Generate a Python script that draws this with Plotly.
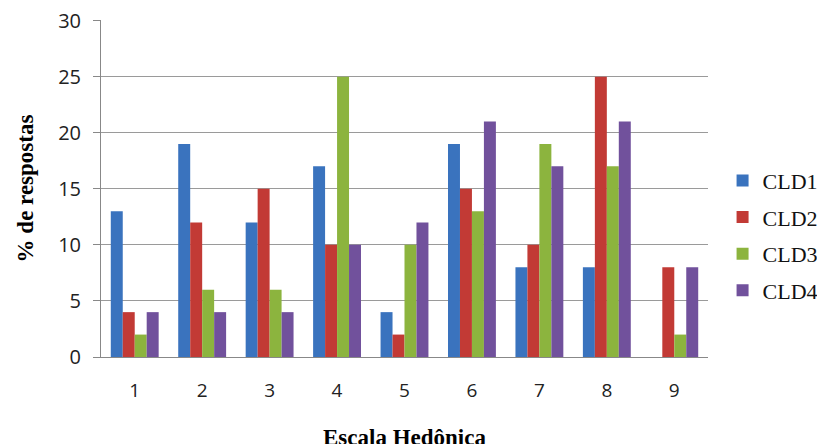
import plotly.graph_objects as go

categories = ["1", "2", "3", "4", "5", "6", "7", "8", "9"]
series_names = ["CLD1", "CLD2", "CLD3", "CLD4"]
cld1 = [13, 19, 12, 17, 4, 19, 8, 8, 0]
cld2 = [4, 12, 15, 10, 2, 15, 10, 25, 8]
cld3 = [2, 6, 6, 25, 10, 13, 19, 17, 2]
cld4 = [4, 4, 4, 10, 12, 21, 17, 21, 8]
colors = ["#3A73BE", "#C23A35", "#8CB43E", "#71519C"]
y_ticks = [0, 5, 10, 15, 20, 25, 30]
x_title = "Escala Hedônica"
y_title = "% de respostas"

fig = go.Figure()
for name, vals, col in zip(series_names, [cld1, cld2, cld3, cld4], colors):
    fig.add_trace(go.Bar(x=categories, y=vals, name=name, legendgroup=name,
                         marker=dict(color=col, line=dict(width=0))))

# page body adds an 8px offset; margins compensate
fig.update_layout(
    width=825, height=444,
    margin=dict(l=93, r=125, t=12, b=95, autoexpand=False),
    paper_bgcolor="white", plot_bgcolor="white",
    barmode="group", bargap=0.29, bargroupgap=0,
    showlegend=True,
    legend=dict(x=1.024, y=0.36, xanchor="left", yanchor="middle",
                font=dict(family="Liberation Serif", size=22, color="#111"),
                itemwidth=30, tracegroupgap=5),
    xaxis=dict(type="category", showline=True, linecolor="#888", linewidth=1,
               automargin=False,
               ticks="", tickfont=dict(family="Open Sans", size=19, color="#222"),
               ticklabelstandoff=16),
    yaxis=dict(range=[0, 30.05], tickvals=y_ticks, showgrid=True, gridcolor="#9a9a9a",
               automargin=False, ticklabeloverflow="allow",
               gridwidth=1, showline=True, linecolor="#888", linewidth=1,
               ticks="outside", ticklen=7, tickcolor="#888",
               ticklabelstandoff=8,
               tickfont=dict(family="Open Sans", size=20, color="#222"),
               title=dict(text=y_title, standoff=18,
                          font=dict(family="Liberation Serif", size=23, color="#000",
                                    weight="bold"))),
    annotations=[dict(text="<b>" + x_title + "</b>", xref="paper", yref="paper",
                      x=0.5, y=-0.195, xanchor="center", yanchor="top",
                      showarrow=False,
                      font=dict(family="Liberation Serif", size=23, color="#000"))],
)

fig.write_html("out.html")
